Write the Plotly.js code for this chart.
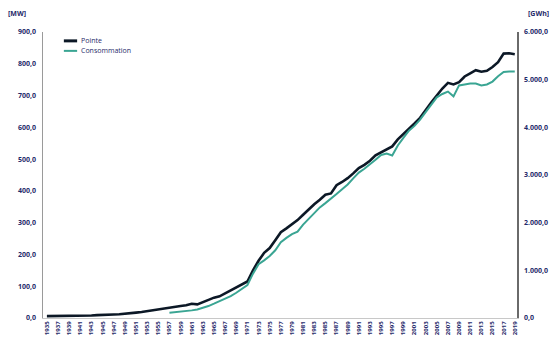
<!DOCTYPE html>
<html>
<head>
<meta charset="utf-8">
<script src="https://cdn.plot.ly/plotly-3.0.1.min.js"></script>
<style>html,body{margin:0;padding:0;background:#fff}#chart{width:560px;height:343px}</style>
</head>
<body>
<div id="chart"></div>
<script>
const years = [];
for (let y = 1935; y <= 2019; y++) years.push(y);

const pointeMW = [6,6,6,6,7,7,7,8,8,9,9,10,11,12,13,15,17,19,22,24,27,30,33,35,38,40,45,43,50,58,64,68,77,86,95,104,115,150,180,205,220,245,270,282,295,308,325,342,358,372,388,392,418,428,440,455,472,482,495,512,522,532,540,562,578,595,612,630,655,678,700,722,740,735,742,760,770,780,775,778,790,805,832,833,830];

const consoYears = [];
for (let y = 1957; y <= 2019; y++) consoYears.push(y);
const consoGWh = [110,120,130,140,160,180,210,250,300,350,400,460,530,610,690,930,1130,1210,1300,1420,1590,1680,1760,1810,1960,2080,2210,2320,2410,2500,2600,2700,2800,2930,3050,3130,3220,3320,3420,3450,3410,3620,3780,3930,4030,4160,4320,4480,4630,4700,4750,4650,4880,4900,4920,4920,4880,4900,4960,5070,5160,5170,5170];

const xTicks = [];
for (let y = 1935; y <= 2019; y += 2) xTicks.push(y);

const seriesNames = ['Pointe', 'Consommation'];
const seriesColors = ['#0c1826', '#3aa593'];

const navy = '#1f2a6a';
const tickFont = {family: 'Open Sans, sans-serif', size: 7, color: navy, weight: 700};

const traces = [
  {x: years, y: pointeMW, name: seriesNames[0], type: 'scatter', mode: 'lines',
   line: {color: seriesColors[0], width: 2.6}, yaxis: 'y'},
  {x: consoYears, y: consoGWh, name: seriesNames[1], type: 'scatter', mode: 'lines',
   line: {color: seriesColors[1], width: 2}, yaxis: 'y2'}
];

const legY = [0.969, 0.934];
const shapes = legY.map((yy, i) => ({type: 'line', xref: 'paper', yref: 'paper',
  x0: 0.044, x1: 0.072, y0: yy, y1: yy, line: {color: seriesColors[i], width: i === 0 ? 3 : 2}}));
const legendAnn = legY.map((yy, i) => ({text: seriesNames[i], xref: 'paper', yref: 'paper',
  x: 0.077, y: yy, xanchor: 'left', yanchor: 'middle', showarrow: false,
  font: {family: 'Open Sans, sans-serif', size: 7, color: navy}}));

const layout = {
  width: 560, height: 343,
  margin: {l: 43, r: 43, t: 32, b: 25},
  paper_bgcolor: '#ffffff', plot_bgcolor: '#ffffff',
  separators: ',.',
  showlegend: false,
  xaxis: {range: [1934.3, 2019.4], tickvals: xTicks, ticktext: xTicks.map(String),
    tickangle: -90, tickfont: {family: 'Open Sans, sans-serif', size: 6, color: navy, weight: 700},
    showgrid: false, zeroline: false, showline: true, linecolor: '#c8c8c8', linewidth: 1,
    ticks: '', fixedrange: true},
  yaxis: {range: [0, 900], tickvals: [0,100,200,300,400,500,600,700,800,900],
    tickformat: ',.1f', tickfont: tickFont, showgrid: false, zeroline: false,
    showline: true, linecolor: '#9a9a9a', linewidth: 1.5, ticks: '', ticklabelstandoff: 4},
  yaxis2: {range: [0, 6000], overlaying: 'y', side: 'right',
    tickvals: [0,1000,2000,3000,4000,5000,6000], tickformat: ',.1f', tickfont: tickFont,
    showgrid: false, zeroline: false, showline: true, linecolor: '#6a6a6a', linewidth: 1.5, ticks: '', ticklabelstandoff: 4},
  shapes: shapes,
  annotations: [
    {text: '[MW]', xref: 'paper', yref: 'paper', x: -0.055, y: 1.065, xanchor: 'center', yanchor: 'middle',
     showarrow: false, font: {family: 'Open Sans, sans-serif', size: 7, color: navy, weight: 700}},
    {text: '[GWh]', xref: 'paper', yref: 'paper', x: 1.045, y: 1.065, xanchor: 'center', yanchor: 'middle',
     showarrow: false, font: {family: 'Open Sans, sans-serif', size: 7, color: navy, weight: 700}}
  ].concat(legendAnn)
};

Plotly.newPlot('chart', traces, layout, {displayModeBar: false, staticPlot: true});
</script>
</body>
</html>
